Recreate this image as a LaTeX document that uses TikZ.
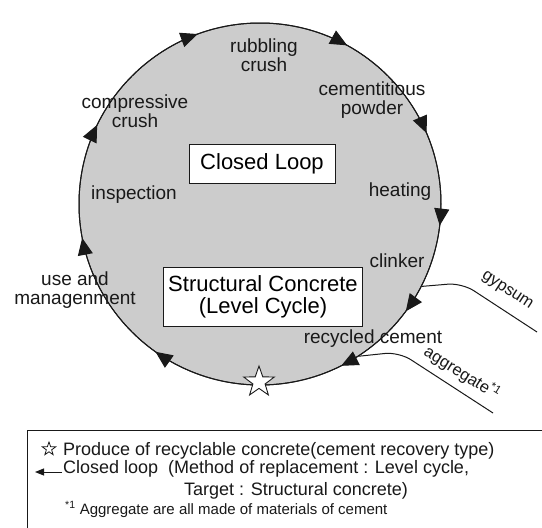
\documentclass[tikz,border=0pt]{standalone}
\usepackage{fontspec}
\setmainfont{Liberation Sans}
\usepackage{tikz}
\usetikzlibrary{shapes.geometric, arrows.meta, positioning, decorations.markings}
\definecolor{loopgray}{RGB}{204,204,204}
\definecolor{mydark}{RGB}{25,25,25}
\tikzset{
  stagelbl/.style={align=center, inner sep=1pt, color=mydark,
    font=\fontsize{19}{19}\selectfont},
  feedlbl/.style={inner sep=0pt, color=mydark,
    font=\fontsize{16.5}{16.5}\selectfont},
  titlebox/.style={rectangle, draw=mydark, fill=white, align=center,
    font=\fontsize{22}{22}\selectfont, line width=0.9pt},
  loopnode/.style={circle, draw=mydark, fill=loopgray,
    minimum size=362pt, inner sep=0pt, line width=1pt},
  looptips/.style={draw=mydark, line width=1pt, postaction={decorate},
    decoration={markings,
      mark=at position 0.019 with {\arrow{Triangle[length=17pt,width=15pt]}},
      mark=at position 0.101 with {\arrow{Triangle[length=17pt,width=15pt]}},
      mark=at position 0.176 with {\arrow{Triangle[length=17pt,width=15pt]}},
      mark=at position 0.348 with {\arrow{Triangle[length=17pt,width=15pt]}},
      mark=at position 0.470 with {\arrow{Triangle[length=17pt,width=15pt]}},
      mark=at position 0.572 with {\arrow{Triangle[length=17pt,width=15pt]}},
      mark=at position 0.694 with {\arrow{Triangle[length=17pt,width=15pt]}},
      mark=at position 0.830 with {\arrow{Triangle[length=17pt,width=15pt]}},
      mark=at position 0.936 with {\arrow{Triangle[length=17pt,width=15pt]}}}},
  bigstar/.style={star, star points=5, star point ratio=2.5, draw=mydark,
    fill=white, minimum size=32pt, inner sep=0pt, line width=0.9pt},
  smallstar/.style={star, star points=5, star point ratio=2.5, draw=mydark,
    fill=white, minimum size=14pt, inner sep=0pt, line width=0.8pt},
  feedline/.style={line width=1pt, color=mydark, rounded corners=14pt},
  legtext/.style={anchor=base west, inner sep=0pt, color=mydark,
    font=\fontsize{18}{18}\selectfont},
  legnote/.style={anchor=base west, inner sep=0pt, color=mydark,
    font=\fontsize{15}{15}\selectfont},
  legarrow/.style={-{Triangle[length=9pt,width=7pt]}, line width=1pt, color=mydark}
}

\begin{document}
\begin{tikzpicture}[x=1pt, y=-1pt]
  \fill[white] (0,0) rectangle (542,528);
  \useasboundingbox (0,0) rectangle (542,528);

  % Closed loop circle
  \node[loopnode] (loop) at (260,204) {};
  \draw[looptips] (loop.center) circle[radius=181];
  \node[bigstar] (origin) at (259,382) {};

  % Stages round the loop
  \node[stagelbl] (rubbling) at (264,55) {rubbling\\crush};
  \node[stagelbl] (powder) at (372,100) {cementitious\\powder};
  \node[stagelbl] (compress) at (135,111) {compressive\\crush};
  \node[stagelbl] (inspect) at (134,195) {inspection};
  \node[stagelbl] (heating) at (400,192) {heating};
  \node[stagelbl] (clinker) at (397,261) {clinker};
  \node[stagelbl] (usemgmt) at (75,290) {use and\\managenment};
  \node[stagelbl] (recycled) at (373,339) {recycled cement};

  % Titles
  \node[titlebox, minimum width=146pt, minimum height=39pt] (closed) at (262,164) {Closed Loop};
  \node[titlebox, minimum width=199pt, minimum height=59pt] (structural) at (263,297) {Structural Concrete\\(Level Cycle)};

  % Inputs
  \coordinate (gypBend) at (462,283);
  \coordinate (gypEnd) at (537,332);
  \draw[feedline] (loop.-27) -- (gypBend) -- (gypEnd);
  \node[feedlbl, rotate=-33] (gypsum) at (507,291) {gypsum};
  \coordinate (aggBend) at (399,352);
  \coordinate (aggEnd) at (493,413);
  \draw[feedline] (loop.-57) -- (aggBend) -- (aggEnd);
  \node[feedlbl, rotate=-32] (aggr) at (462,373) {aggregate\textsuperscript{*1}};

  % Legend
  \draw[line width=1pt, color=mydark] (27,430) rectangle (550,540);
  \node[smallstar] (legStar) at (49,449) {};
  \node[legtext] (legLine1) at (63,455) {Produce of recyclable concrete(cement recovery type)};
  \coordinate (legArrowS) at (62,472);
  \coordinate (legArrowE) at (35,472);
  \draw[legarrow] (legArrowS) -- (legArrowE);
  \node[legtext] (legLine2) at (63,473) {Closed loop\ \ (Method of replacement : Level cycle,};
  \node[legtext, anchor=base] (legLine3) at (296,495) {Target : Structural concrete)};
  \node[legnote] (legNote) at (65,514) {\textsuperscript{*1} Aggregate are all made of materials of cement};
\end{tikzpicture}
\end{document}
